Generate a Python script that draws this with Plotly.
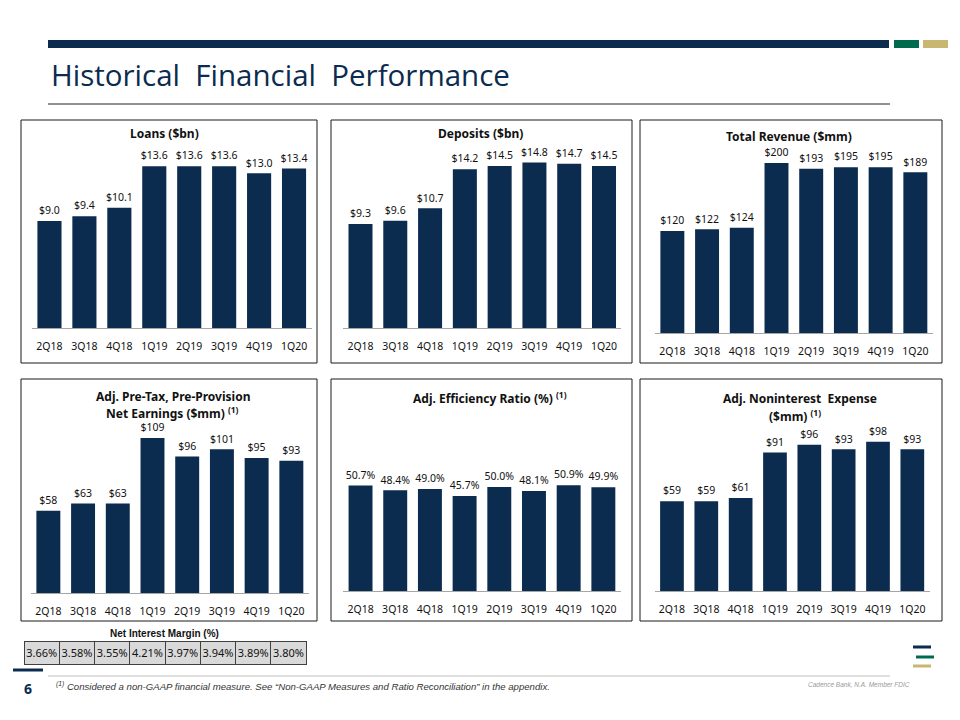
import plotly.graph_objects as go

W, H = 960, 720

quarters = ["2Q18", "3Q18", "4Q18", "1Q19", "2Q19", "3Q19", "4Q19", "1Q20"]
loans = [9.0, 9.4, 10.1, 13.6, 13.6, 13.6, 13.0, 13.4]
deposits = [9.3, 9.6, 10.7, 14.2, 14.5, 14.8, 14.7, 14.5]
revenue = [120, 122, 124, 200, 193, 195, 195, 189]
ptpp = [58, 63, 63, 109, 96, 101, 95, 93]
efficiency = [50.7, 48.4, 49.0, 45.7, 50.0, 48.1, 50.9, 49.9]
nonint = [59, 59, 61, 91, 96, 93, 98, 93]
nim = [3.66, 3.58, 3.55, 4.21, 3.97, 3.94, 3.89, 3.80]

NAVY = "#0b2b4f"
GREEN = "#006a4e"
TAN = "#c9b671"
FONT = "Noto Sans"


def px(x):
    return x / W


def py(y):
    return 1 - y / H


# panel specs: values, text template, x pixel domain, y baseline, y top, y range max
panels = [
    (loans, "$%{y:.1f}", (32.0, 311.5), 328, 140, 188 / 11.9),
    (deposits, "$%{y:.1f}", (343.1, 621.4), 328, 140, 188 / 11.18),
    (revenue, "$%{y:.0f}", (655.0, 932.7), 333.3, 140, 193.3 / 0.852),
    (ptpp, "$%{y:.0f}", (31.0, 308.7), 593.3, 420, 173.3 / 1.425),
    (efficiency, "%{y:.1f}%", (343.2, 620.7), 591, 420, 171 / 2.08),
    (nonint, "$%{y:.0f}", (654.8, 929.5), 591, 420, 171 / 1.523),
]

fig = go.Figure()
layout_axes = {}
for i, (vals, tmpl, (x0, x1), yb, yt, ymax) in enumerate(panels, start=1):
    xa = "x" if i == 1 else f"x{i}"
    ya = "y" if i == 1 else f"y{i}"
    fig.add_trace(go.Bar(
        x=quarters, y=vals, xaxis=xa, yaxis=ya,
        marker=dict(color=NAVY, line=dict(width=0)),
        hoverinfo="skip", showlegend=False,
    ))
    # value labels placed on the data scale, a little above each bar
    fig.add_trace(go.Scatter(
        x=quarters, y=vals, xaxis=xa, yaxis=ya, mode="markers+text",
        marker=dict(size=5, color="rgba(0,0,0,0)"),
        texttemplate=tmpl, textposition="top center", cliponaxis=False,
        textfont=dict(family=FONT, size=10.5, color="#111111"),
        hoverinfo="skip", showlegend=False,
    ))
    kx = "xaxis" if i == 1 else f"xaxis{i}"
    ky = "yaxis" if i == 1 else f"yaxis{i}"
    layout_axes[kx] = dict(
        domain=[px(x0), px(x1)], anchor=ya, type="category",
        range=[-0.5, 7.5], showline=True, linecolor="#a6a6a6", linewidth=1,
        showgrid=False, zeroline=False, ticks="", ticklabelstandoff=8,
        tickfont=dict(family=FONT, size=10.5, color="#111111"), fixedrange=True,
    )
    layout_axes[ky] = dict(
        domain=[py(yb), py(yt)], anchor=xa, range=[0, ymax], visible=False,
        showgrid=False, zeroline=False, fixedrange=True,
    )

# NIM table (values as single row)
fig.add_trace(go.Table(
    domain=dict(x=[px(24), px(307)], y=[py(666), py(641)]),
    columnwidth=[1] * len(nim),
    header=dict(
        values=[f"{v:.2f}%" for v in nim],
        fill_color="#d9d9d9", line=dict(color="#404040", width=1),
        font=dict(family=FONT, size=11, color="#111111"),
        align="center", height=23,
    ),
    cells=dict(values=[]),
))

shapes = []
# panel borders
for (bx0, by0, bx1, by1) in [
    (21, 120, 317, 363), (331, 120, 632, 363), (640, 120, 942, 363),
    (21, 379, 317, 621), (331, 379, 632, 621), (640, 379, 942, 621),
]:
    shapes.append(dict(type="rect", xref="paper", yref="paper",
                       x0=px(bx0), x1=px(bx1), y0=py(by1), y1=py(by0),
                       line=dict(color="#1a1a1a", width=1), layer="below"))
# header bars
for (hx0, hx1, col) in [(48, 889, NAVY), (894, 919, GREEN), (923, 948, TAN)]:
    shapes.append(dict(type="rect", xref="paper", yref="paper",
                       x0=px(hx0), x1=px(hx1), y0=py(48), y1=py(40),
                       fillcolor=col, line=dict(width=0)))
# title underline
shapes.append(dict(type="line", xref="paper", yref="paper",
                   x0=px(48), x1=px(890), y0=py(104), y1=py(104),
                   line=dict(color="#222222", width=1)))
# footer line
shapes.append(dict(type="line", xref="paper", yref="paper",
                   x0=px(48), x1=px(890), y0=py(676), y1=py(676),
                   line=dict(color="#bfbfbf", width=1)))
shapes.append(dict(type="line", xref="paper", yref="paper",
                   x0=px(13), x1=px(43), y0=py(670), y1=py(670),
                   line=dict(color=NAVY, width=3)))
# logo
for (lx0, lx1, ly, col) in [(913, 931, 647, NAVY), (916, 934, 657, GREEN), (913, 931, 666, TAN)]:
    shapes.append(dict(type="line", xref="paper", yref="paper",
                       x0=px(lx0), x1=px(lx1), y0=py(ly), y1=py(ly),
                       line=dict(color=col, width=3)))

annotations = []


def ann(text, x, y, size, color="#111111", bold=False, family=FONT,
        xanchor="center", italic=False):
    t = text
    if bold:
        t = f"<b>{t}</b>"
    if italic:
        t = f"<i>{t}</i>"
    annotations.append(dict(text=t, x=px(x), y=py(y), xref="paper", yref="paper",
                            xanchor=xanchor, yanchor="middle", showarrow=False,
                            font=dict(family=family, size=size, color=color)))


ann("Historical  Financial  Performance", 49, 75, 29.5, color=NAVY, family="Open Sans",
    xanchor="left")
ann("Loans ($bn)", 164, 133, 12, bold=True)
ann("Deposits ($bn)", 480, 133, 12, bold=True)
ann("Total Revenue ($mm)", 789, 136, 12, bold=True)
ann("Adj. Pre-Tax, Pre-Provision", 173, 396, 12, bold=True)
ann("Net Earnings ($mm) <sup>(1)</sup>", 172, 413, 12, bold=True)
ann("Adj. Efficiency Ratio (%) <sup>(1)</sup>", 490, 398, 12, bold=True)
ann("Adj. Noninterest  Expense", 800, 398, 12, bold=True)
ann("($mm) <sup>(1)</sup>", 795, 416, 12, bold=True)
ann("Net Interest Margin (%)", 164, 633, 10, bold=True, family="Liberation Sans")
ann("6", 28, 688, 14, color=NAVY, bold=True)
ann("<sup>(1)</sup> Considered a non-GAAP financial measure. See “Non-GAAP Measures and Ratio Reconciliation” in the appendix.",
    54, 686, 9.6, color="#333333", family="Liberation Sans", xanchor="left", italic=True)
ann("Cadence Bank, N.A. Member FDIC", 912, 684, 6.5, color="#9a9a9a",
    family="Liberation Sans", xanchor="right", italic=True)

fig.update_layout(
    width=W, height=H, margin=dict(l=0, r=0, t=0, b=0),
    paper_bgcolor="white", plot_bgcolor="white",
    bargap=0.31, showlegend=False,
    shapes=shapes, annotations=annotations,
    **layout_axes,
)

fig.write_html("out.html", config={"displayModeBar": False})
